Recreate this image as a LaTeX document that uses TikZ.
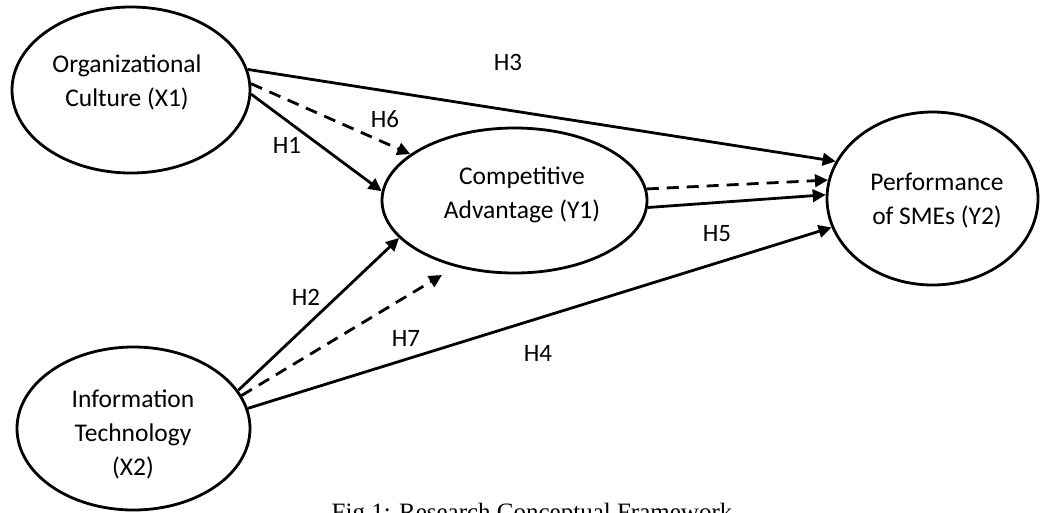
\documentclass[tikz,border=0pt]{standalone}
\usepackage{fontspec}
\setmainfont{Carlito}
\newfontfamily\capfont{Liberation Serif}
\usetikzlibrary{arrows.meta,shapes.geometric}
\begin{document}
\begin{tikzpicture}[x=1pt,y=-1pt,
  ell/.style={draw, ellipse, line width=2.8pt, inner sep=0pt},
  txt/.style={align=center, font=\fontsize{25.5}{34}\selectfont, inner sep=0pt},
  hlab/.style={font=\fontsize{25}{30}\selectfont, inner sep=0pt},
  conn/.style={line width=2.8pt, -{Triangle[length=13pt,width=12.5pt]}},
  dconn/.style={conn, dash pattern=on 12pt off 8pt}]
\useasboundingbox (0,0) rectangle (1040,512);
\fill[white] (0,0) rectangle (1040,512);
% ellipses
\node[ell, minimum width=238pt, minimum height=166pt] (X1) at (131,90) {};
\node[ell, minimum width=265pt, minimum height=145pt] (Y1) at (514.5,200.5) {};
\node[ell, minimum width=211pt, minimum height=173pt] (Y2) at (932.5,198.5) {};
\node[ell, minimum width=233pt, minimum height=163pt] (X2) at (133.5,428.5) {};
% texts
\node[txt] (X1t) at (127,82) {Organizational\\Culture (X1)};
\node[txt] (Y1t) at (522,195) {Competitive\\Advantage (Y1)};
\node[txt] (Y2t) at (937,201) {Performance\\of SMEs (Y2)};
\node[txt] (X2t) at (133,434) {Information\\Technology\\(X2)};
% free end
\coordinate (h7end) at (442,275);
% connectors
\draw[conn] (X1.10.1) -- (Y2.159);
\draw[dconn] (X1.3.4) -- (Y1.156.1);
\draw[conn] (X1.-2.4) -- (Y1.176.3);
\draw[dconn] (Y1.5.9) -- (Y2.170.6);
\draw[conn] (Y1.-3.3) -- (Y2.178.6);
\draw[conn] (X2.20.2) -- (Y1.198.6);
\draw[dconn] (X2.17.5) -- (h7end);
\draw[conn] (X2.10.5) -- (Y2.196.1);
% labels
\node[hlab] (H3) at (508,62) {H3};
\node[hlab] (H6) at (385,119) {H6};
\node[hlab] (H1) at (287,145) {H1};
\node[hlab] (H5) at (717,234) {H5};
\node[hlab] (H2) at (306,297) {H2};
\node[hlab] (H7) at (406,338) {H7};
\node[hlab] (H4) at (538,353) {H4};
% caption (cropped by page edge, as in the reference)
\node[anchor=base, inner sep=0pt, font=\capfont\fontsize{25}{30}\selectfont] (cap) at (532,520) {Fig 1: Research Conceptual Framework};
\end{tikzpicture}
\end{document}
